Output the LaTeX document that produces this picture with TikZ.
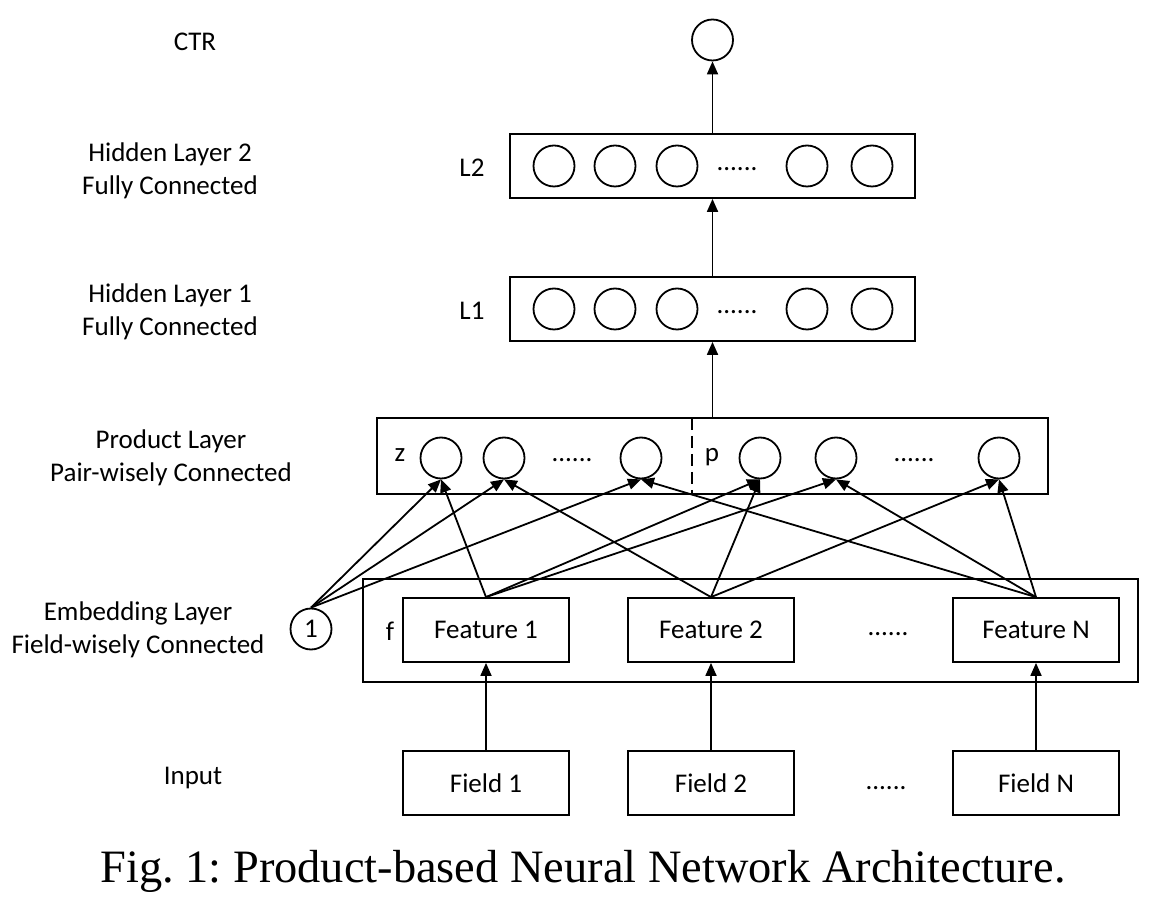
\documentclass[tikz,border=0pt]{standalone}
\usepackage{fontspec}
\setmainfont{Carlito}
\newfontfamily\capfont{Liberation Serif}
\usetikzlibrary{shapes,shapes.geometric,arrows.meta,calc}
\frenchspacing

\begin{document}
\begin{tikzpicture}[x=0.5pt,y=-0.5pt]
	\tikzstyle{every node}=[font=\fontsize{13.5}{16.5}\selectfont]
	\tikzstyle{neuron}=[circle,draw,line width=0.9pt,minimum size=20.5pt,inner sep=0pt]
	\tikzstyle{fbox}=[rectangle,draw,line width=0.9pt,minimum width=83pt,minimum height=32pt]
	\tikzstyle{layer}=[rectangle,draw,line width=0.9pt,inner sep=0pt]
	\tikzstyle{lbl}=[align=center]
	\tikzstyle{dots}=[anchor=base]
	\tikzstyle{arr}=[-{Triangle[length=6.5pt,width=5.5pt]},line width=0.9pt]
	\useasboundingbox (0,0) rectangle (1162,908);

	% left hand labels
	\node[lbl] (lctr) at (195,42) {CTR};
	\node[lbl] (lhid2) at (170,171) {Hidden Layer 2\\Fully Connected};
	\node[lbl] (lhid1) at (170,312) {Hidden Layer 1\\Fully Connected};
	\node[lbl] (lprod) at (171,458) {Product Layer\\Pair-wisely Connected};
	\node[lbl] (lemb) at (138,630) {Embedding Layer\\Field-wisely Connected};
	\node[lbl] (linput) at (193,778) {Input};

	% output
	\node[neuron] (ctr) at (712.5,40) {};

	% hidden layer 2
	\node[layer,minimum width=202.5pt,minimum height=32pt] (l2box) at (712.5,166) {};
	\node (l2) at (472,168) {L2};
	\node[neuron] (h21) at (554,166) {};
	\node[neuron] (h22) at (615,166) {};
	\node[neuron] (h23) at (677,166) {};
	\node[dots] (h2dots) at (737,171) {......};
	\node[neuron] (h24) at (807,166) {};
	\node[neuron] (h25) at (872,166) {};

	% hidden layer 1
	\node[layer,minimum width=202.5pt,minimum height=32pt] (l1box) at (712.5,309) {};
	\node (l1) at (472,311) {L1};
	\node[neuron] (h11) at (554,309) {};
	\node[neuron] (h12) at (615,309) {};
	\node[neuron] (h13) at (677,309) {};
	\node[dots] (h1dots) at (737,314) {......};
	\node[neuron] (h14) at (807,309) {};
	\node[neuron] (h15) at (872,309) {};

	% product layer
	\node[layer,minimum width=335.5pt,minimum height=38pt] (pbox) at (712.5,456) {};
	\draw[line width=0.9pt,dash pattern=on 6pt off 3pt] (692,418) -- (692,494);
	\node[dots] (zlab) at (400,462) {z};
	\node[neuron] (z1) at (441,458) {};
	\node[neuron] (z2) at (504,458) {};
	\node[dots] (zdots) at (572,462) {......};
	\node[neuron] (z3) at (641,458) {};
	\node[dots] (plab) at (712,462) {p};
	\node[neuron] (p1) at (760,458) {};
	\node[neuron] (p2) at (836,458) {};
	\node[dots] (pdots) at (914,462) {......};
	\node[neuron] (p3) at (999,458) {};

	% embedding layer
	\node[layer,minimum width=387.5pt,minimum height=51.5pt] (ebox) at (750.5,630.5) {};
	\node[neuron] (one) at (311,629) {1};
	\node[dots] (flab) at (390,640) {f};
	\node[fbox] (feat1) at (486,630) {Feature 1};
	\node[fbox] (feat2) at (711,630) {Feature 2};
	\node[dots] (fdots) at (888,636) {......};
	\node[fbox] (featn) at (1036,630) {Feature N};

	% input
	\node[fbox] (field1) at (486,783) {Field 1};
	\node[fbox] (field2) at (711,783) {Field 2};
	\node[dots] (idots) at (886,789) {......};
	\node[fbox] (fieldn) at (1036,783) {Field N};

	% vertical arrows
	\draw[arr] (field1) -- (feat1);
	\draw[arr] (field2) -- (feat2);
	\draw[arr] (fieldn) -- (featn);
	\draw[arr] (pbox.north) -- (l1box.south);
	\draw[arr] (l1box.north) -- (l2box.south);
	\draw[arr] (l2box.north) -- (ctr.south);

	% pair-wise connections
	\draw[arr] (one.north) -- (z1.south);
	\draw[arr] (one.north) -- (z2.south);
	\draw[arr] (one.north) -- (z3.south);
	\draw[arr] (feat1.north) -- (z1.south);
	\draw[arr] (feat1.north) -- (p1.south);
	\draw[arr] (feat1.north) -- (p2.south);
	\draw[arr] (feat2.north) -- (z2.south);
	\draw[arr] (feat2.north) -- (p1.south);
	\draw[arr] (feat2.north) -- (p3.south);
	\draw[arr] (featn.north) -- (z3.south);
	\draw[arr] (featn.north) -- (p2.south);
	\draw[arr] (featn.north) -- (p3.south);

	% caption
	\node[anchor=base,font=\capfont\fontsize{23.2}{27}\selectfont] (cap) at (583,882) {Fig. 1: Product-based Neural Network Architecture.};
\end{tikzpicture}
\end{document}
